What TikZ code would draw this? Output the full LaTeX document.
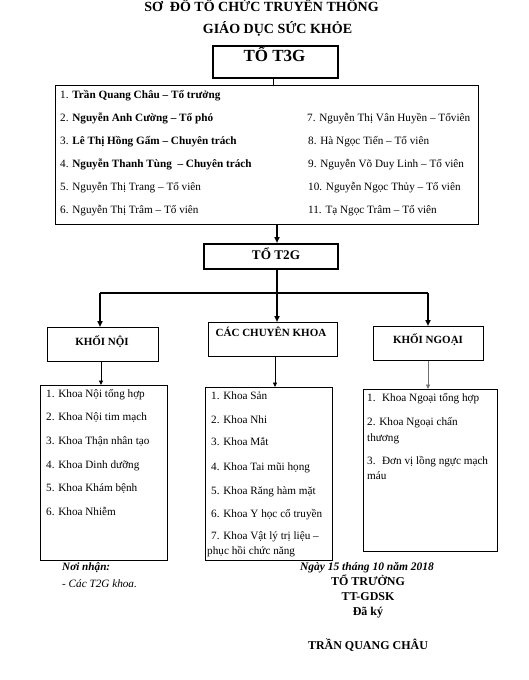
\documentclass[tikz,border=0pt]{standalone}
\usepackage{fontspec}
\setmainfont{Liberation Serif}
\usetikzlibrary{arrows.meta}
\begin{document}
\begin{tikzpicture}[x=1pt,y=-1pt,
  txt/.style={inner sep=0pt, text height=0.7em, text depth=0.2em},
  item/.style={txt, anchor=west, font=\fontsize{11.2}{13}\selectfont},
  titlef/.style={txt, font=\fontsize{14}{16}\selectfont\bfseries},
  catf/.style={txt, font=\fontsize{11}{13}\selectfont\bfseries},
  sigf/.style={txt, font=\fontsize{12}{14}\selectfont\bfseries},
  bx/.style={draw, inner sep=0pt, anchor=north west},
  arr/.style={-{Triangle[length=6pt,width=5pt]}},
  sarr/.style={-{Triangle[length=4.5pt,width=4pt]}}]
\useasboundingbox (0,0) rectangle (529,680);
\fill[white] (0,0) rectangle (529,680);

% titles
\node[titlef] (title1) at (261.5,9) {SƠ \ ĐỒ TỔ CHỨC TRUYỀN THÔNG};
\node[titlef] (title2) at (277.5,31) {GIÁO DỤC SỨC KHỎE};

% TO T3G
\node[bx, line width=2pt, minimum width=125pt, minimum height=32pt] (t3g) at (212,45) {};
\node[txt, font=\fontsize{17}{19}\selectfont\bfseries] (t3gl) at (274.5,59) {TỔ T3G};

% team box
\node[bx, line width=1.3pt, minimum width=423pt, minimum height=139pt] (team) at (55,85) {};
\node[item] (m1) at (60,96)  {1. \textbf{Trần Quang Châu – Tổ trưởng}};
\node[item] (m2) at (60,119) {2. \textbf{Nguyễn Anh Cường – Tổ phó}};
\node[item] (m3) at (60,142) {3. \textbf{Lê Thị Hồng Gấm – Chuyên trách}};
\node[item] (m4) at (60,165) {4. \textbf{Nguyễn Thanh Tùng \ – Chuyên trách}};
\node[item] (m5) at (60,188) {5. Nguyễn Thị Trang – Tổ viên};
\node[item] (m6) at (60,211) {6. Nguyễn Thị Trâm – Tổ viên};
\node[item] (m7) at (307,119) {7. Nguyễn Thị Vân Huyền – Tổviên};
\node[item] (m8) at (308,142) {8. Hà Ngọc Tiến – Tổ viên};
\node[item] (m9) at (308,165) {9. Nguyễn Võ Duy Linh – Tổ viên};
\node[item] (m10) at (308,188) {10. Nguyễn Ngọc Thủy – Tổ viên};
\node[item] (m11) at (308,211) {11. Tạ Ngọc Trâm – Tổ viên};

% TO T2G
\node[bx, line width=2pt, minimum width=134pt, minimum height=25pt] (t2g) at (203,243) {};
\node[txt, font=\fontsize{13.2}{15}\selectfont\bfseries] (t2gl) at (276,256.5) {TỔ T2G};

% category boxes
\node[bx, line width=1pt, minimum width=111pt, minimum height=34pt] (knoi) at (47,327) {};
\node[catf] (knoil) at (102,343) {KHỐI NỘI};
\node[bx, line width=1pt, minimum width=129pt, minimum height=34pt] (ckhoa) at (208,322) {};
\node[catf] (ckhoal) at (271,334) {CÁC CHUYÊN KHOA};
\node[bx, line width=1pt, minimum width=110pt, minimum height=34pt] (kngoai) at (373,326) {};
\node[catf] (kngoail) at (428,341) {KHỐI NGOẠI};

% list boxes
\node[bx, line width=1pt, minimum width=127pt, minimum height=175pt] (lnoi) at (40,385) {};
\node[bx, line width=1pt, minimum width=127pt, minimum height=173pt] (lck) at (205,387) {};
\node[bx, line width=1pt, minimum width=134pt, minimum height=162pt] (lngoai) at (363,389) {};

\node[item] (a1) at (46,395) {1. Khoa Nội tổng hợp};
\node[item] (a2) at (46,418) {2. Khoa Nội tim mạch};
\node[item] (a3) at (46,442) {3. Khoa Thận nhân tạo};
\node[item] (a4) at (46,466) {4. Khoa Dinh dưỡng};
\node[item] (a5) at (46,489) {5. Khoa Khám bệnh};
\node[item] (a6) at (46,513) {6. Khoa Nhiễm};

\node[item] (b1) at (211,397) {1. Khoa Sản};
\node[item] (b2) at (211,421) {2. Khoa Nhi};
\node[item] (b3) at (211,443) {3. Khoa Mắt};
\node[item] (b4) at (211,468) {4. Khoa Tai mũi họng};
\node[item] (b5) at (211,492) {5. Khoa Răng hàm mặt};
\node[item] (b6) at (211,515) {6. Khoa Y học cổ truyền};
\node[item] (b7) at (211,537) {7. Khoa Vật lý trị liệu –};
\node[item] (b7b) at (207,552) {phục hồi chức năng};

\node[item] (c1) at (367,399) {1. \ Khoa Ngoại tổng hợp};
\node[item] (c2) at (367,423) {2. Khoa Ngoại chấn};
\node[item] (c2b) at (367,439) {thương};
\node[item] (c3) at (367,462) {3. \ Đơn vị lồng ngực mạch};
\node[item] (c3b) at (367,477) {máu};

% connectors
\draw[line width=1pt] (t3g.south -| 273,0) -- (team.north -| 273,0);
\coordinate (bx) at (277,0);
\draw[line width=1.8pt, arr] (bx |- team.south) -- (bx |- t2g.north);
\coordinate (jn) at (277,293);
\coordinate (jl) at (100,293);
\coordinate (jr) at (428,293);
\draw[line width=1.8pt] (bx |- t2g.south) -- (jn);
\draw[line width=1.8pt] (jl) -- (jr);
\draw[line width=1.8pt, arr] (jl) -- (jl |- knoi.north);
\draw[line width=1.8pt, arr] (jn) -- (jn |- ckhoa.north);
\draw[line width=1.8pt, arr] (jr) -- (jr |- kngoai.north);

\coordinate (dl) at (101,0);
\coordinate (dm) at (275,0);
\coordinate (dr) at (428,0);
\draw[line width=0.9pt, sarr] (dl |- knoi.south) -- (dl |- lnoi.north);
\draw[line width=0.9pt, sarr] (dm |- ckhoa.south) -- (dm |- lck.north);
\draw[line width=0.9pt, sarr, draw=black!55, fill=black!70] (dr |- kngoai.south) -- (dr |- lngoai.north);

% footer
\node[txt, anchor=west, font=\fontsize{11.2}{13}\selectfont\bfseries\itshape] (noi) at (62,568) {Nơi nhận:};
\node[txt, anchor=west, font=\fontsize{11.2}{13}\selectfont\itshape] (noi2) at (62,585) {- Các T2G khoa.};
\node[txt, font=\fontsize{11.5}{13}\selectfont\bfseries\itshape] (ngay) at (367,568) {Ngày 15 tháng 10 năm 2018};
\node[sigf] (s1) at (368,583) {TỔ TRƯỞNG};
\node[sigf] (s2) at (368,598) {TT-GDSK};
\node[sigf] (s3) at (368,613) {Đã ký};
\node[sigf] (s4) at (368,647) {TRẦN QUANG CHÂU};
\end{tikzpicture}
\end{document}
